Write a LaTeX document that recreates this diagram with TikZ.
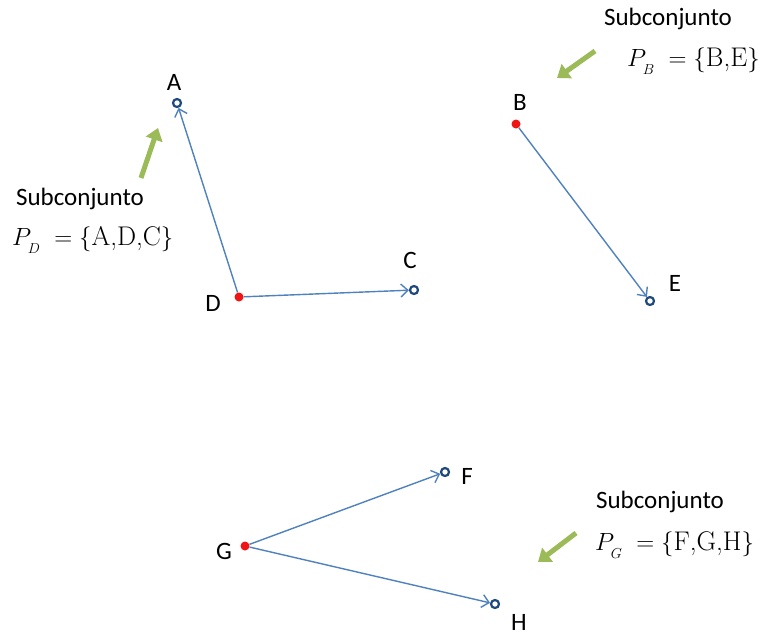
\documentclass[tikz,border=0pt]{standalone}
\usepackage{fontspec}
\newfontfamily\calib{Carlito}
\usetikzlibrary{arrows.meta}
\definecolor{lineblue}{RGB}{79,129,189}
\definecolor{ptblue}{RGB}{31,73,125}
\definecolor{ptred}{RGB}{240,20,20}
\definecolor{pgreen}{RGB}{155,187,89}
\newcommand{\lowsub}[1]{_{\raisebox{-4pt}{$\scriptscriptstyle #1$}}}
\tikzset{
  endpt/.style={circle,draw=ptblue,line width=2.2pt,fill=white,minimum size=8pt,inner sep=0pt},
  startpt/.style={circle,fill=ptred,minimum size=9pt,inner sep=0pt},
  lbl/.style={font=\calib\fontsize{25}{28}\selectfont,inner sep=0pt},
  sub/.style={font=\calib\fontsize{25}{28}\selectfont,inner sep=0pt},
  formula/.style={font=\fontsize{27}{30}\selectfont,inner sep=0pt},
  edge/.style={lineblue,line width=1.4pt,-{Straight Barb[length=7pt,width=13pt,line width=1.4pt]}},
  hint/.style={pgreen,line width=5pt,-{Triangle[length=12pt,width=17pt]}}
}
\begin{document}
\begin{tikzpicture}[x=1pt,y=-1pt]
\useasboundingbox (0,0) rectangle (765,635);
% points
\node[endpt] (A) at (177,103) {};
\node[startpt] (D) at (239,297) {};
\node[endpt] (C) at (414,290) {};
\node[startpt] (B) at (516,124) {};
\node[endpt] (E) at (650,301) {};
\node[endpt] (F) at (445,472) {};
\node[startpt] (G) at (245,546) {};
\node[endpt] (H) at (495,604) {};
% labels
\node[lbl] (lA) at (174,82) {A};
\node[lbl] (lD) at (213,303) {D};
\node[lbl] (lC) at (410,260) {C};
\node[lbl] (lB) at (520,102) {B};
\node[lbl] (lE) at (675,283) {E};
\node[lbl] (lF) at (467,476) {F};
\node[lbl] (lG) at (224,551) {G};
\node[lbl] (lH) at (519,622) {H};
% edges
\draw[edge] (D) -- (A);
\draw[edge] (D) -- (C);
\draw[edge] (B) -- (E);
\draw[edge] (G) -- (F);
\draw[edge] (G) -- (H);
% subsets
\node[sub] (s1) at (80,199) {Subconjunto};
\node[formula,anchor=west] (f1) at (12,240) {$P\lowsub{D}\;=\{\mbox{A,D,C}\}$};
\node[sub] (s2) at (668,19) {Subconjunto};
\node[formula,anchor=west] (f2) at (627,61) {$P\lowsub{B}\;=\{\mbox{B,E}\}$};
\node[sub] (s3) at (660,502) {Subconjunto};
\node[formula,anchor=west] (f3) at (595,545) {$P\lowsub{G}\;=\{\mbox{F,G,H}\}$};
% green hint arrows
\coordinate (g1a) at (141,178);
\coordinate (g1b) at (158,128);
\coordinate (g2a) at (595,51);
\coordinate (g2b) at (557,78);
\coordinate (g3a) at (576,533);
\coordinate (g3b) at (538,562);
\draw[hint] (g1a) -- (g1b);
\draw[hint] (g2a) -- (g2b);
\draw[hint] (g3a) -- (g3b);
\end{tikzpicture}
\end{document}
